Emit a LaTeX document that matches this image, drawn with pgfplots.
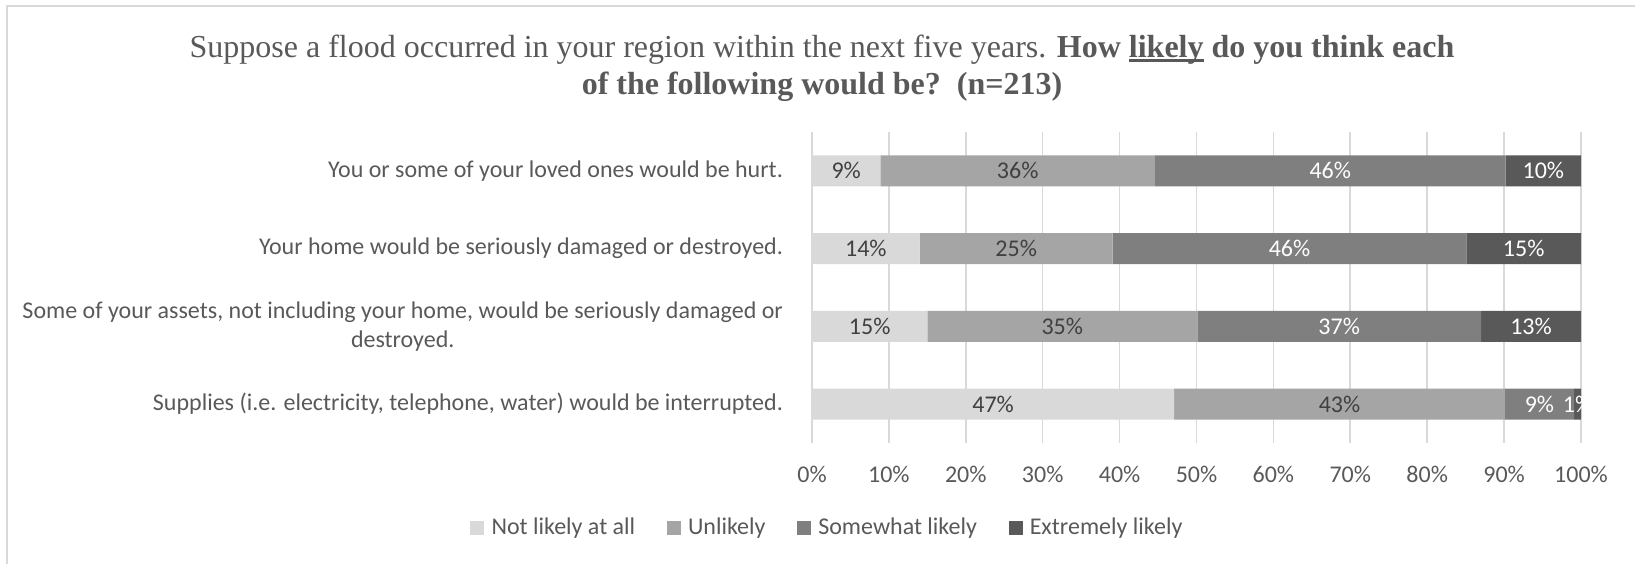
\documentclass[border=0pt]{standalone}
\usepackage{pgfplots}
\pgfplotsset{compat=1.18}
\usepackage{pgfplotstable}
\usepackage{fontspec}
\setmainfont{Carlito}
\newfontfamily\titlefont{Liberation Serif}
\definecolor{c1}{HTML}{D9D9D9}
\definecolor{c2}{HTML}{A5A5A5}
\definecolor{c3}{HTML}{7F7F7F}
\definecolor{c4}{HTML}{595959}
\definecolor{txt}{HTML}{595959}
\definecolor{lbl}{HTML}{404040}
\definecolor{gridc}{HTML}{D9D9D9}
\pgfkeys{/pgf/number format/assume math mode=true}
\newcommand\thickul[1]{\setbox0\hbox{#1}\rlap{\rule[-2.3pt]{\wd0}{1.5pt}}\box0\relax}

\pgfplotstableread{
row a b c d
0 8.9 35.7 45.6 9.8
1 14.0 25.1 46.0 14.9
2 15.0 35.1 36.9 13.0
3 47.1 43.0 9.0 0.9
}\data

\begin{document}
\begin{tikzpicture}
\useasboundingbox (0,0) rectangle (817.5pt,281.5pt);
\draw[gridc, line width=1pt] (3.5pt,-1pt) -- (3.5pt,278.5pt) -- (820pt,278.5pt);
\node[align=center, text=txt, font=\titlefont\fontsize{16}{18.3}\selectfont] at (411pt,247.5pt)
 {Suppose a flood occurred in your region within the next five years. \textbf{How \thickul{likely} do you think each}\\ \textbf{of the following would be?\ \ (n=213)}};

\pgfplotsset{common/.style={
  at={(406pt,60pt)}, anchor=south west,
  scale only axis, width=384.5pt, height=155.5pt,
  xmin=0, xmax=100, ymin=-0.5, ymax=3.5, y dir=reverse,
}}

\begin{axis}[common,
  xbar stacked, bar width=15.5pt,
  axis line style={draw=none},
  xtick={0,10,...,100},
  xticklabel={\pgfmathprintnumber[fixed,precision=0]{\tick}\%},
  xmajorgrids, major grid style={gridc, line width=0.8pt},
  major tick length=0pt,
  ytick={0,1,2,3},
  yticklabels={You or some of your loved ones would be hurt.,
    Your home would be seriously damaged or destroyed.,
    {Some of your assets, not including your home, would be seriously damaged or\\destroyed.},
    {Supplies (i.e. electricity, telephone, water) would be interrupted.}},
  yticklabel style={align=center, text=txt, font=\fontsize{12}{14.5}\selectfont, xshift=-11pt},
  xticklabel style={text=txt, font=\fontsize{12}{14}\selectfont, yshift=-8pt},
  legend columns=4,
  legend style={at={(axis description cs:0.021,-0.2735)}, anchor=center, draw=none,
    font=\fontsize{12}{14}\selectfont, text=txt,
    /tikz/every even column/.append style={column sep=14pt},
    nodes={inner xsep=1.8pt}},
  legend image code/.code={\fill[#1, draw=none] (0pt,-3.3pt) rectangle (7pt,3.7pt); \path (8.8pt,0pt);},
]
\addplot[fill=c1, draw=none] table[x=a, y=row] {\data};
\addplot[fill=c2, draw=none] table[x=b, y=row] {\data};
\addplot[fill=c3, draw=none] table[x=c, y=row] {\data};
\addplot[fill=c4, draw=none] table[x=d, y=row] {\data};
\legend{Not likely at all, Unlikely, Somewhat likely, Extremely likely}
\end{axis}

\begin{axis}[common, hide axis,
  nodes near coords={\pgfmathprintnumber[fixed,precision=0]{\pgfplotspointmeta}\%},
  every node near coord/.append style={anchor=center, font=\fontsize{12}{14}\selectfont},
  point meta=explicit,
]
\addplot[draw=none, mark=none, every node near coord/.append style={text=lbl}]
  table[x expr=\thisrow{a}/2, y=row, meta=a] {\data};
\addplot[draw=none, mark=none, every node near coord/.append style={text=lbl}]
  table[x expr=\thisrow{a}+\thisrow{b}/2, y=row, meta=b] {\data};
\addplot[draw=none, mark=none, every node near coord/.append style={text=white}]
  table[x expr=\thisrow{a}+\thisrow{b}+\thisrow{c}/2, y=row, meta=c] {\data};
\addplot[draw=none, mark=none, every node near coord/.append style={text=white}]
  table[x expr=\thisrow{a}+\thisrow{b}+\thisrow{c}+\thisrow{d}/2, y=row, meta=d] {\data};
\end{axis}
\end{tikzpicture}
\end{document}
